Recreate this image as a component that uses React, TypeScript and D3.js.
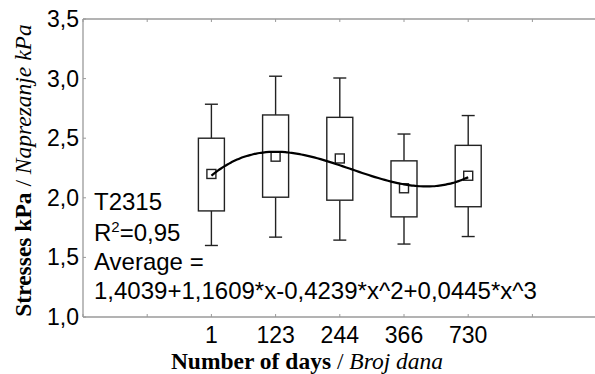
import React from "react";
import * as d3 from "d3";

const categories = ["1", "123", "244", "366", "730"];
const means = [2.2, 2.345, 2.33, 2.08, 2.185];
const boxLow = [1.89, 2.005, 1.98, 1.84, 1.925];
const boxHigh = [2.5, 2.695, 2.675, 2.31, 2.44];
const whiskerLow = [1.6, 1.67, 1.645, 1.612, 1.675];
const whiskerHigh = [2.785, 3.02, 3.005, 2.535, 2.69];
const yTicks = [1.0, 1.5, 2.0, 2.5, 3.0, 3.5];
const fitCoef = [1.4039, 1.1609, -0.4239, 0.0445];
const annotation = ["T2315", "R2=0,95", "Average =", "1,4039+1,1609*x-0,4239*x^2+0,0445*x^3"];

const W = 595, H = 374;
const left = 83, right = 596.6, top = 19, bottom = 317;

export default function App() {
  const x = d3.scaleLinear().domain([0, 8]).range([left, right]);
  const y = d3.scaleLinear().domain([1, 3.5]).range([bottom, top]);
  const pos = (i: number) => x(i + 2);
  const fit = (t: number) => fitCoef.reduce((s, c, k) => s + c * Math.pow(t, k), 0);
  const curvePts = d3.range(1, 5.0001, 0.05).map((t) => [x(t + 1), y(fit(t))] as [number, number]);
  const line = d3.line().curve(d3.curveMonotoneX)(curvePts) || "";
  const boxW = 26, capW = 13, sq = 9;
  const frame = "#9a9a9a";
  const ink = "#222";
  const sans = "'Liberation Sans', Arial, sans-serif";
  const serif = "'Liberation Serif', 'Times New Roman', serif";
  const xTickIdx = d3.range(0, 9);

  return (
    <svg width={W} height={H} style={{ position: "absolute", left: 0, top: 0, background: "#fff" }}>
      <rect x={0} y={0} width={W} height={H} fill="#fff" />
      {/* frame */}
      <line x1={left} x2={right} y1={top} y2={top} stroke={frame} strokeWidth={1.3} />
      <line x1={left} x2={right} y1={bottom} y2={bottom} stroke={frame} strokeWidth={1.3} />
      <line x1={left} x2={left} y1={top} y2={bottom} stroke={frame} strokeWidth={1.3} />
      {xTickIdx.map((i) => (
        <g key={"xt" + i}>
          <line x1={x(i)} x2={x(i)} y1={top} y2={top + 3} stroke={frame} strokeWidth={1} />
          <line x1={x(i)} x2={x(i)} y1={bottom} y2={bottom - 3} stroke={frame} strokeWidth={1} />
        </g>
      ))}
      {yTicks.map((t) => (
        <g key={"yt" + t}>
          <line x1={left} x2={left + 3} y1={y(t)} y2={y(t)} stroke={frame} strokeWidth={1} />
          <text x={79} y={y(t) + 8} textAnchor="end" fontFamily={sans} fontSize={23} fill="#000">
            {t.toFixed(1).replace(".", ",")}
          </text>
        </g>
      ))}
      {categories.map((c, i) => (
        <text key={"xl" + i} x={pos(i)} y={342.5} textAnchor="middle" fontFamily={sans} fontSize={23} fill="#000">
          {c}
        </text>
      ))}
      {/* boxes */}
      {categories.map((c, i) => (
        <g key={"b" + i} stroke={ink} strokeWidth={1.4} fill="none">
          <line x1={pos(i)} x2={pos(i)} y1={y(whiskerHigh[i])} y2={y(boxHigh[i])} />
          <line x1={pos(i)} x2={pos(i)} y1={y(boxLow[i])} y2={y(whiskerLow[i])} />
          <line x1={pos(i) - capW / 2} x2={pos(i) + capW / 2} y1={y(whiskerHigh[i])} y2={y(whiskerHigh[i])} />
          <line x1={pos(i) - capW / 2} x2={pos(i) + capW / 2} y1={y(whiskerLow[i])} y2={y(whiskerLow[i])} />
          <rect x={pos(i) - boxW / 2} y={y(boxHigh[i])} width={boxW} height={y(boxLow[i]) - y(boxHigh[i])} fill="#fff" />
          <rect x={pos(i) - sq / 2} y={y(means[i]) - sq / 2} width={sq} height={sq} fill="#fff" />
        </g>
      ))}
      <path d={line} fill="none" stroke="#000" strokeWidth={2.2} />
      {/* annotation */}
      <g fontFamily={sans} fontSize={24} fill="#000">
        <text x={94} y={210}>{annotation[0]}</text>
        <text x={94} y={241}>
          R<tspan dy={-9} fontSize={15}>2</tspan>
          <tspan dy={9}>=0,95</tspan>
        </text>
        <text x={94} y={269.5}>{annotation[2]}</text>
        <text x={94} y={298.5}>{annotation[3]}</text>
      </g>
      {/* axis titles */}
      <text x={307} y={368.5} textAnchor="middle" fontFamily={serif} fontSize={23.5} fill="#000">
        <tspan fontWeight="bold">Number of days</tspan>
        <tspan> / </tspan>
        <tspan fontStyle="italic">Broj dana</tspan>
      </text>
      <text transform="translate(31,170.5) rotate(-90)" textAnchor="middle" fontFamily={serif} fontSize={23.5} fill="#000">
        <tspan fontWeight="bold">Stresses kPa</tspan>
        <tspan> / </tspan>
        <tspan fontStyle="italic">Naprezanje kPa</tspan>
      </text>
    </svg>
  );
}
